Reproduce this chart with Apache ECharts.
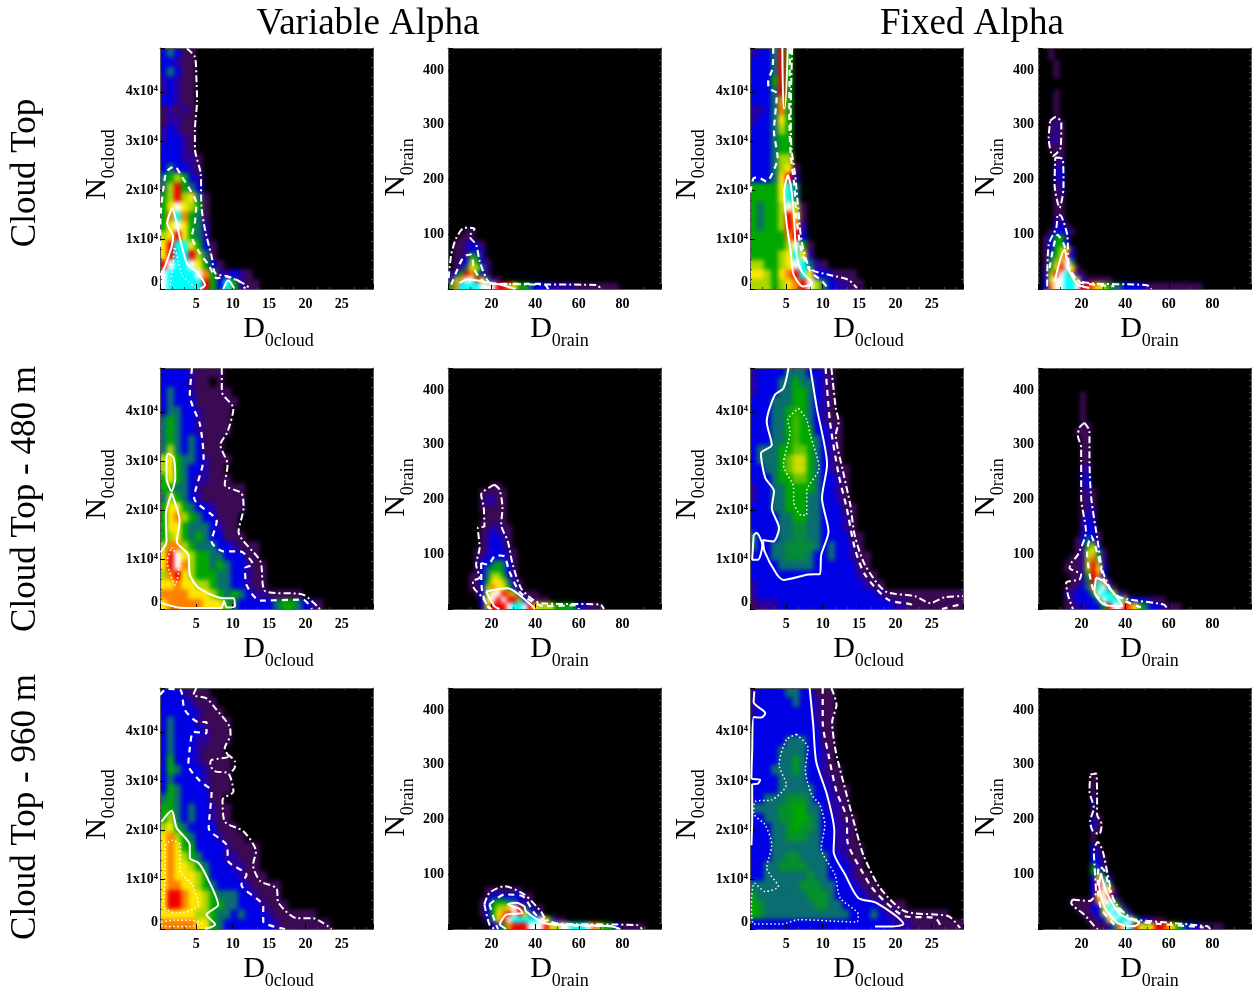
<!DOCTYPE html>
<html><head><meta charset="utf-8"><style>html,body{margin:0;padding:0;background:#fff}#c{width:1255px;height:992px}</style>
<script src="https://cdn.jsdelivr.net/npm/echarts@6/dist/echarts.min.js"></script></head><body><div id="c"></div>
<script>
const columnTitles=['Variable Alpha','Fixed Alpha'];
const rowTitles=['Cloud Top','Cloud Top - 480 m','Cloud Top - 960 m'];
const levelColors=['#000000','#3c0a55','#2a00a0','#0000e6','#0a6e70','#00a800','#a8d800','#ffe800','#ff8000','#f00000','#ffffff','#00ffff'];
const cloudXTicks=[5,10,15,20,25], rainXTicks=[20,40,60,80];

// density levels; rows run top to bottom and end on the bottom row
const g1=[[3,4,3,1,1],[3,3,2,1,1],[3,4,3,1,1],[2,3,2,1,1],[2,3,2,1,1],[3,3,2,1,1],[1,2,1,2,1],[1,2,2,1,1],[2,3,2,1,1],[2,3,3,2,1],[3,3,3,2,1],[3,3,3,2,2,1],[3,4,3,3,2,1],[4,5,6,5,3,2],[4,6,9,5,4,3],[5,6,9,6,7,4,1],[5,7,10,7,6,5,1],[5,8,11,8,5,4,1],[5,7,10,7,5,4,2],[6,7,9,7,5,4,2],[7,9,11,11,7,5,3,1],[7,9,11,11,9,6,4,1],[9,10,11,11,10,7,5,3,1],[10,11,11,11,11,10,8,5,2,2,3,2,1],[10,11,11,11,11,11,9,5,3,11,5,2,1,1]];
// rain rows: first number is the first occupied column
const g2=[[3,1,1],[2,1,1,1],[1,1,1,2,3,2,1],[1,1,1,2,3,3,2],[1,1,1,2,5,4,2],[1,1,2,3,6,5,3,1],[1,1,2,4,7,6,4,2],[0,1,3,5,9,8,5,3,1],[0,3,6,8,10,10,9,7,4,2,1],[0,5,8,11,11,11,11,10,10,10,9,9,8,7,5,5,4,3,3,3,2,2,2,2,2,1,1,1,1,1,1,1,1]];
const g3=[[2,3,3,4,9,5],[3,3,3,4,9,5],[3,3,3,4,9,5],[3,3,3,5,9,5],[3,3,3,4,9,5],[3,3,3,4,8,5],[2,2,3,4,8,5],[2,3,3,4,7,5],[3,3,3,4,6,5],[3,3,3,4,5,5],[3,3,3,4,5,5],[3,3,3,4,6,6],[3,3,3,4,6,7,1],[3,3,3,4,7,9,2],[5,5,5,5,7,11,4],[5,5,5,5,7,11,4],[5,4,5,5,6,10,6,1],[5,4,5,5,6,9,7,1],[5,4,5,5,6,9,8,2],[5,5,5,5,5,8,9,3],[5,5,5,5,5,6,10,5,1],[5,5,5,5,6,7,11,7,2],[6,6,5,5,6,7,10,11,4,2,1],[7,7,6,5,7,8,9,11,7,3,3,2,1,1,1],[6,6,6,5,6,7,8,9,10,6,4,3,2,2,1,1]];
const g4=[[2,1],[2,1],[3,1],[3,1],[3,1],[],[],[3,1],[3,1],[3,1],[3,1],[3,1],[2,1,2,1],[2,1,2,1],[2,1,2,1],[2,2,2,1],[2,1,1,1],[3,1,1],[3,1,2],[3,2,2],[3,2,3],[3,2,3],[3,2,2],[3,1,2],[3,1,2],[3,1,1],[3,1,1],[3,1,1],[3,2,2],[3,2,3,1],[2,1,3,3,3,1],[1,1,3,5,5,2],[1,1,3,5,5,3],[1,1,3,5,6,7,2],[1,1,4,5,7,9,3],[1,1,4,6,8,10,4],[1,2,5,7,9,10,7,1],[1,2,6,9,10,11,8,2,1],[1,3,7,10,10,11,11,7,3,1,1,1,1,1],[1,3,8,10,10,11,11,10,9,9,8,7,6,5,4,4,3,3,3,3,2,1,1,1,1,1,1,1,1,1,1]];
const g5=[[3,3,3,3,2,1,1,1,1],[3,3,3,3,2,1,1,0,1],[3,4,3,3,2,1,1,1,1,1],[3,4,3,3,3,1,1,1,1,1,1],[3,4,4,3,3,2,1,1,1,1],[4,5,4,3,3,2,1,1,1,1],[4,5,4,3,3,2,1,1,1,1],[4,5,4,3,4,3,1,1,1],[4,6,4,3,4,3,1,1,1],[6,7,5,4,4,3,2,1,1,1],[6,7,5,4,3,3,2,1,1],[5,7,5,4,3,2,2,1,1,1],[5,5,4,4,3,2,1,1,1,1,1,1],[4,6,5,4,3,2,1,1,1,1,1,1],[5,7,7,5,4,3,3,2,1,1,1,1],[5,7,8,6,5,4,3,3,1,1,1],[5,7,7,5,4,4,4,3,2,1,1],[5,6,7,5,4,5,4,3,3,1,1,1],[6,8,8,6,5,4,4,4,3,3,2,1,1,1],[7,9,10,7,6,5,5,4,4,3,3,3,1,1],[7,9,10,8,6,5,5,4,5,4,3,3,2,1,1],[6,8,9,7,6,5,5,5,4,4,3,3,2,1,1],[7,7,8,7,7,6,6,5,4,4,3,3,2,1,1],[8,8,8,8,7,7,7,6,5,4,5,4,3,2,2,1,1,1,1,1],[7,8,8,8,8,8,7,7,7,5,4,3,3,3,3,3,4,5,5,4,3,2,1]];
const g6=[[8,1,1],[6,1,1,1,1,1],[6,1,2,2,1,1],[6,1,2,2,1,1],[6,1,1,1,1,1],[7,1,1,1,1],[6,1,1,1,1,1],[6,1,1,2,2,1,1],[6,1,2,3,2,2,1],[6,1,2,3,3,2,1],[6,1,2,3,3,2,1],[5,1,1,2,3,3,3,1,1],[5,1,2,3,3,3,3,2,1],[5,1,3,3,4,5,4,3,1],[5,1,3,4,5,5,4,3,1],[4,1,1,3,4,6,6,5,3,2],[4,1,1,3,5,7,7,6,4,2,1],[4,1,1,3,6,8,7,7,5,3,1],[5,1,3,6,10,10,9,8,6,3,1,1,1],[6,3,7,10,9,10,9,9,6,3,1,1,1,1],[6,2,6,9,9,9,10,11,11,10,9,7,6,6,6,5,5,5,5,3,2,2,1,1]];
const g7=[[2,3,3,3,3,4,4,4,3,3,2,1],[2,3,3,3,4,4,5,4,4,3,2,1],[2,3,3,3,4,4,5,5,4,3,2,1],[3,3,3,4,4,4,5,5,4,3,2,1],[3,3,3,4,4,5,5.2,5,4,3,2,1],[3,3,3,4,4,5,5.4,5,4,3,2,1,1],[3,3,3,4,4,5,5.4,5,5,3,3,2,1],[3,3,3,4,4,5,5.4,5,5,4,3,2,1],[3,4,4,4,5,5,5.6,5.6,5,4,3,2,1],[3,4,4,4,5,5.6,6.4,6.4,5,4,3,2,1],[3,3,4,4,5,5.6,6.4,6.4,5,4,3,2,1,1],[3,3,3,4,5,5,5.6,5.6,5,4,3,3,2,1],[2,3,3,4,4,5,5,5,5,4,3,3,2,1],[2,3,3,4,4,5,5,5,4,4,3,3,2,1],[3,3,3,4,4,5,5,5,4,4,3,3,3,1,1],[3,3,3,3,4,4,5,5,4,4,3,3,3,2,1],[3,3,3,3,4,4,4.5,4.5,4,4,3,3,3,2,1],[4,3,3,3,4,4,4.5,4.5,4,4,3,3,3,3,1,1],[4,3,3,4,4,4.5,4.5,4.5,4.5,4,3,4,3,3,2,1],[3,3,3,4,4,4.5,4.5,4.5,4,3,3,4,3,3,2,1,1],[3,3,3,3,4,4,4,4,4,3,3,3,3,3,3,1,1],[3,3,3,3,3,3,3,3,3,3,3,3,3,3,3,2,1,1],[2,3,3,3,3,3,3,3,3,3,3,3,3,3,3,3,2,1,1],[2,3,3,3,3,3,3,3,3,3,3,3,3,3,3,3,3,3,2,1,1,1,1,1,1,1,1,1,1,1],[1,2,2,2,3,3,3,3,3,3,3,3,3,3,3,3,3,3,3,3,2,2,1,1,1,1,1,1,1,1]];
const g8=[[8,1],[8,1],[8,1],[8,1],[8,1],[8,1,1],[7,1,1,1],[8,1,1],[8,1,1],[8,1,1],[8,1,1],[8,1,1],[8,2,2],[8,2,2],[8,2,3],[8,2,3],[8,1,2,1],[8,1,2,1],[8,1,2,1],[8,1,2,2],[8,1,3,2],[8,2,3,2],[8,2,3,3],[8,2,3,3,1],[7,1,3,4,3,1],[7,1,2,5,6,3],[7,1,2,6,7,4,1],[6,1,1,2,6,8,5,2],[5,1,1,1,2,6,9,6,2],[5,1,1,1,2,6,9,7,3],[6,1,1,2,5,9,8,3],[6,1,1,2,4,9,11,8,2],[5,1,1,2,3,4,8,11,10,4,1],[5,2,2,3,3,3,5,10,11,11,6,2,1],[5,1,2,3,3,3,3,5,10,11,11,11,6,3,3,3,2,2,1,1],[5,1,1,2,2,3,3,3,5,9,10,10,9,8,7,5,4,3,3,2,1,1,1]];
const g9=[[3,3,3,2,1,1,1],[3,3,3,3,2,1,1,1],[3,3,3,3,3,2,1,1,1],[3,4,3,3,3,2,1,1,1,1],[3,4,3,3,3,3,2,1,1,1],[3,4,3,3,3,2,2,1,1,1],[3,4,3,3,3,2,1,1,1],[3,5,3,3,3,2,1,1,1,1],[3,5,4,3,3,3,2,1,1,1],[3,4,3,3,3,3,2,1,1,1],[3,5,4,3,3,3,3,1,1,1],[4,5,4,3,3,3,3,1,1],[5,5,4,3,4,3,3,2,1,1],[5,6,4,3,4,3,3,2,1,1],[6,7,5,4,3,3,3,3,1,1,1],[7,8,6,5,4,3,3,3,2,1,1,1],[7,8,7,5,5,3,3,3,3,2,1,1,1,1],[7,8,7,6,5,4,3,3,3,2,2,1,1,1],[7,8,7,7,6,5,4,3,3,3,2,2,1,1],[7,8,7,7,7,6,5,3,3,3,3,2,1,1,1],[7,8,8,7,7,6,5,4,3,3,3,3,2,1,1,1,1],[7,9,9,8,7,7,6,5,4,4,4,3,3,2,1,1,1],[7,9,9,8,7,7,6,5,5,4,4,3,3,3,2,1,1,1],[7,7,7,7,7,6,6,5,4,4,3,4,3,3,3,2,1,1,1,1,1,1],[8,8,8,8,8,7,7,5,4,3,3,3,3,3,3,3,2,1,1,1,1,1,1,1]];
const g10=[[7,1,1,1,1,1,1,1],[7,1,3,3,3,3,3,3,1,1],[6,1,3,4,5,5,4,4,3,2,1],[6,1,3,5,6,6,7,10,9,4,3,1,1],[6,1,3,5,7,8,9,10,9,7,4,3,1],[7,2,4,7,9,10,11,11,11,11,11,10,7,4,2,1],[8,2,3,5,8,9,9,9,10,10,10,9,7,6,10,10,11,11,11,10,8,6,5,5,3,2,1,1,1,1]];
const g11=[[2,3,3,3,3,4,4,3,3,1,1,1],[2,3,3,3,3,3,4,3,3,2,1,1],[2,3,3,3,3,3,3,3,3,2,1,1],[3,3,3,3,3,3,3,3,3,2,1,1],[3,3,3,3,3,3,3,3,3,3,1,1],[3,3,3,3,3,4,4,4,3,3,1,1],[3,3,3,3,4,4,4,4,3,3,2,1],[3,3,3,3,4,4,4.7,4,3,3,2,1],[3,3,3,4,4,4,4.7,4,3,3,2,1,1],[3,3,3,3,4,4,4,4,3,3,2,2,1],[3,3,3,3,4,4,4,4,4,3,3,2,1,1],[3,3,4,4,4,4.6,4.6,4.6,4,3,3,2,2,1],[4,4,4,4,4.6,4.6,5,5,4,4,3,2,2,1],[3,3,4,4,4.6,4.6,5,5,4.6,4,3,3,2,1,1],[3,3,3,4,4,4.6,5,4.6,4.6,4,3,3,2,2,1],[3,3,3,4,4,4.6,4.6,4.6,4,4,3,3,2,2,1],[3,3,3,4,4,4,4,4,4,4,3,3,2,2,1,1],[3,3,3,4,4,4.6,4.6,4,4,4,4,3,3,2,1,1],[3,3,4,4,4.6,4.6,4.6,4.6,4,4,4,3,3,3,2,1],[3,3,4,4,4,4,4,4,4.6,4,4,3,3,3,2,1,1],[4,4,4,4,4,4,4,4.6,4.6,4.6,4,4,3,3,3,2,1,1],[4.6,4,4,4,4,4,4,4,4.6,4.6,4.6,4,3,3,3,3,2,1,1],[5,4.6,4,4,4,4,4,4,4,4.6,4.6,4,4,3,3,3,3,3,2,1,1,1],[5,4.6,4,4,4,4,4,4,4,4,4,4,4,4,3,3,3,4,3,2,2,1,1,1,1,1,1,1],[3,3,3,3,3,3,3,3,3,3,3,3,3,3,3,3,3,3,3,3,2,2,2,1,1,1,1,1,1,1]];
const g12=[[10,1],[10,1],[10,1],[10,1],[10,2],[10,2],[10,1],[10,2,1],[10,3,1],[10,2,1],[10,1],[10,1],[10,3,1],[10,3,2],[10,3,3,1],[10,4,3,1],[10,5,4,2],[10,3,7,5,2],[10,3,9,10,4],[10,3,9,10,7,1],[10,2,7,10,9,2],[6,1,1,1,1,2,8,10,10,5,1],[7,1,1,1,3,3,7,11,10,5,2],[8,1,1,2,3,6,10,11,10,5,2],[9,1,1,2,3,7,10,11,11,10,5,3,2,2,1,1],[10,1,1,1,2,4,8,10,11,9,7,6,7,9,9,8,7,5,4,3,3,2,1,1,1,1]];

// contours in data units: D, N (cloud N in thousands)
const c1=[['dd',[[3.7,48.8],[4.8,47.1],[5,43],[5.1,38.3],[4.8,32.2],[4.8,28.5],[5.6,23.4],[5.7,16.7],[6.2,12],[7.1,6.6],[7.6,3.2],[9.2,2.6],[11.5,1.1],[12.4,.1]]],
['da',[[0,8.6],[.1,15.3],[.5,20.7],[.9,23.8],[2,24.9],[3,22.8],[3.9,20.7],[5,17.4],[4.8,13.6],[4.4,10.6],[5.5,7.2],[6.7,4.9],[7.8,2.2],[9.2,2.5],[11,1.5],[11.7,.1]]],
['so',[[0,2.8],[.5,3.9],[1.6,8.6],[1.8,10.6],[1,13.3],[1.7,16.4],[2.4,12.6],[2.8,9.9],[3.7,5.2],[5,3.5],[6.2,.8],[5.5,0]]],
['so',[[8.7,0],[9.4,1.8],[10.2,.1]]],['do',[[1.4,.8],[1.8,5],[2,8.5],[2.6,5],[3.2,2.5],[4.8,.4]]]];
const c2=[['dd',[[.3,20],[1.5,63],[3.8,93],[7.6,112],[12.2,110],[9.9,96],[12.9,81],[14.5,51],[17.5,20],[19.8,10],[68.5,7],[70,0]]],
['da',[[1.5,8],[5.3,45],[7.6,60],[10.7,63],[11.9,38],[14.5,20],[18.3,10],[44,9],[46,0]]],
['so',[[5.3,11],[9,18],[16.7,13],[25,7],[31,0]]]];
const c3=[['dd',[[5.8,48.9],[5.6,36],[5.7,28.6],[6.2,23.2],[6.6,17],[7.1,9.7],[8.3,4.1],[10.8,2.9],[13.5,1.9],[14.7,.2]]],
['da',[[5.5,48.9],[5.4,36],[5.6,27.2],[6.1,21.1],[6.4,14.4],[7.1,7.6],[8.3,3.6],[9.9,1.6],[10.8,0]]],
['da',[[3.2,48.9],[3.1,44.8],[2.5,42.1],[2.6,40.7],[3.7,39.7],[3.3,32],[3.8,26.6],[3.2,23.9],[2.3,21.8],[1.1,22.6],[.5,22.5],[0,19.1]]],
['so',[[4.45,48.9],[4.6,36.7],[4.8,36.7],[5.2,48.9]]],
['so',[[5.2,23.2],[4.7,19.8],[5,13.7],[5.6,7.6],[6,2.9],[7.3,.5],[8.5,1.2],[7.1,3.6],[6.4,7],[6,15.7],[5.6,21.1],[5.2,23.2]]]];
const c4=[['dd',[[5.6,307],[8.1,314],[10.7,304],[10.4,258],[6.8,243],[4.9,276],[5.6,307]]],
['dd',[[7.9,240],[11.4,237],[11.7,185],[9.9,148],[7.6,191],[7.9,240]]],
['dd',[[4.2,5],[4.9,81],[8.4,112],[9.1,136],[10.7,133],[13.4,99],[14.5,38],[19.8,13],[50,7],[52,0]]],
['da',[[5.3,38],[9,99],[12.2,78],[13.7,38],[18.3,13],[35,5]]],
['so',[[7.6,14],[12.2,72],[14.5,32],[18.3,8],[23.6,2]]]];
const c5=[['dd',[[8.5,48.9],[8.5,44.1],[10.1,40.7],[9.3,36],[8.3,33.3],[9.3,29.3],[8.9,25.2],[11.2,23.5],[11.5,20.5],[10.8,15.7],[13.8,9.7],[14.5,3.6],[19.7,2.9],[22,0]]],
['da',[[4.4,48.9],[4.1,43.4],[5.5,37.4],[6,30.6],[4.7,22.5],[7.8,17.8],[7.1,13.7],[8.7,11.7],[11,11.7],[12.8,9],[11.7,8.3],[11.9,4.9],[13.8,1.7],[19.7,1.9],[20.9,0]]],
['so',[[1.1,31.6],[1.9,30.6],[2.1,26.6],[1.6,23.9],[.9,26.6],[.9,30.6],[1.1,31.6]]],
['so',[[1.6,23.5],[2.7,17.8],[2.3,13.7],[3.9,11],[4.1,7],[5.3,4.3],[8.7,2.2],[10.1,2.2],[10.3,.5],[9.2,.3],[8.8,1.6],[8.4,.2],[3.2,.2],[.2,1.2]]],
['so',[[1.6,23.5],[.8,19.1],[.9,13.7],[.1,11.5]]],
['do',[[1.6,12.5],[2.7,9.7],[2.1,4.9],[1,9.7],[1.6,12.5]]]];
const c6=[['dd',[[21.3,227],[23.6,218],[25,185],[24.4,154],[27.4,124],[29.7,81],[33.5,38],[39.6,15],[44,10],[70,8],[71.5,0]]],
['dd',[[21.3,227],[15.2,209],[16.4,185],[16.7,151],[13.7,148],[14.5,112],[12.9,81],[14.5,57],[11.4,51],[11.9,38],[16,20],[19,0]]],
['da',[[15.2,84],[18.3,81],[22,98],[25.8,96],[28.1,69],[32.7,32],[38.8,13],[44,5],[59.4,7],[60,0]]],
['da',[[15.2,84],[15.5,38],[17.5,8],[20,0]]],
['so',[[17.5,32],[27.4,38],[36.5,13],[40,0]]],['so',[[17.5,32],[21.3,5],[23.6,0]]]];
const c7=[['dd',[[11.2,48.9],[11.8,40.7],[12.2,38],[11.8,35.3],[12.8,27.9],[13.8,21.1],[14.4,15],[15.8,9],[18.6,3.6],[22.7,2.6],[24.8,1.2],[26.8,2.4],[29.3,2.6]]],
['da',[[10.4,48.9],[11,38],[12.2,27.2],[13.3,20.5],[14.4,12.4],[15.8,7],[19,1.9],[22.2,.9],[22.7,0]]],['da',[[26.4,0],[29.1,1]]],
['so',[[5.3,48.9],[4.6,44.8],[3.4,43.4],[2.3,38],[3,33.3],[1.5,31.6],[2.1,26.6],[3.3,23.9],[3,20.5],[4,16.4],[3.2,13.7],[1.8,14],[2,11.7],[3.7,7],[4.6,5.9],[8,7],[9.6,7.1],[9.8,11],[10.8,15.7],[9.9,22.5],[10.6,29.3],[9.2,40.7],[8.3,48.9]]],
['so',[[.5,15],[.9,15.4],[1.7,13],[1.1,10],[.3,10],[.5,15]]],
['do',[[6.7,40.7],[7.8,38.4],[8.3,35.3],[9.5,28.6],[7.8,23.9],[7.8,19.1],[7.1,19],[6,21.8],[6,24.5],[4.6,29.3],[5.5,36],[5.2,38.4],[6.7,40.7]]]];
const c8=[['dd',[[21.3,340],[23.6,325],[23.6,276],[24.4,203],[27.4,124],[29.7,69],[35,26],[41,18],[57.8,8],[59.4,0]]],
['dd',[[21.3,340],[19,331],[18.3,316],[19.8,295],[19.8,203],[22,142],[18.3,99],[15.2,84],[14.5,75],[19.8,63],[19,54],[12.9,48],[13.7,26],[16,0]]],
['da',[[32,5],[25.6,32],[22.5,105],[24.4,133],[27.4,99],[31.2,45],[38.8,17],[47.2,3]]],
['so',[[26.6,57],[25.9,32],[30.4,8],[38.8,5],[36.5,20],[30,51],[26.6,57]]]];
const c9=[['dd',[[5,48.9],[4.6,47.5],[6.4,46.8],[7.6,44.8],[9.6,41],[9.7,39.4],[8.9,36.7],[9.4,35],[7.1,34.3],[6.9,33.3],[7.6,32],[9.4,31.6],[10.1,27.9],[8.6,26.2],[8.9,21.8],[11.5,19.8],[13.2,15.7],[12.8,13],[13.8,9.7],[16,8.3],[16.3,5.3],[18.8,2.2],[21,2.2],[23.6,0]]],
['dd',[[9.2,35.5],[10.3,34],[10.3,32.8],[9.9,32]]],
['da',[[0,47.5],[.9,48.7],[2.8,48.5],[3.4,44.5],[5.3,42],[6.4,42],[6.4,39.7],[4.6,40],[4.1,36.7],[3.9,33.3],[5.5,30],[7.1,27.9],[6.7,20.5],[9.2,17],[9.4,13.7],[11.9,11],[11.2,9],[14.2,4.6],[14.2,1.5],[17.2,0]]],
['so',[[.2,21.8],[1.6,24],[2.3,20.5],[4.1,17],[4.1,14.4],[5.3,13.4],[6.4,10.7],[8,4.9],[6.4,2.9],[7.6,.9],[6.2,0]]],
['do',[[.7,17],[1.6,18],[2.8,17],[2.8,11.7],[4.4,9],[5.3,4.9],[2.3,3.2],[.5,4.6],[.7,11.7],[.7,17]]],
['do',[[.2,1.4],[2,1.8],[4.1,1.8],[5.7,1.2],[4.1,.5],[.4,.5],[.2,1.4]]]];
const c10=[['dd',[[16.7,45],[19,66],[25.9,78],[35,63],[42.6,32],[44.9,18],[50,10],[86.8,7],[89,0]]],['dd',[[16.7,45],[19,8],[21.3,0]]],
['da',[[19,45],[22.8,57],[25.9,63],[34.2,60],[40.3,26],[50,7],[76,5],[78,0]]],['da',[[19,45],[22,8],[23,0]]],
['so',[[23.6,8],[26.6,26],[34.2,29],[32.7,37],[27.4,45],[31.2,48],[35,41],[35.8,32],[44,11],[51,8],[74.6,5],[79,0]]],['so',[[23.6,8],[26.6,0]]]];
const c11=[['dd',[[11.2,48.9],[11.9,45.5],[11.3,42],[11.8,36],[13.3,27.2],[14.4,21.1],[15.6,15],[17.9,8.3],[21.3,3.6],[27.3,2.6],[28.9,.2]]],
['da',[[10,48.9],[10,42],[10.8,35.3],[11.9,27.9],[13.3,22.5],[13.4,17.8],[15.4,11.7],[17.2,7.6],[21.3,2.6],[25.5,2.2],[26.4,0]]],
['so',[[8.2,48.9],[8.7,41.4],[9.1,34],[10.6,27.2],[11.6,19.8],[11.5,15.7],[13.1,11],[14.9,6.3],[17.4,5.3],[21.1,1],[19.5,.5],[17.2,.5]]],
['so',[[.6,48.2],[.5,46],[2.1,43.8],[1.6,42.9],[.5,43],[.3,36],[.2,30.6],[1.4,30.3],[1.1,29.5],[.3,29.3],[.3,22.5],[.2,17]]],
['do',[[6.4,39.5],[8,36.7],[7.6,32.3],[8.5,27.2],[9.6,25.2],[10.3,21.1],[9.8,16.4],[11.7,11],[12.4,6.3],[14.9,2.9],[14.7,1.4],[6.7,1.9],[4.4,1],[.5,1],[.2,4.9],[.6,9.3],[2.1,7.6],[3.9,8.6],[2.3,12.4],[3,17],[2.1,21.1],[.5,23.5],[.7,25.9],[3,26.2],[5,29.3],[4,33.3],[5,38.4],[6.4,39.5]]]];
const c12=[['dd',[[24,282],[26.6,284],[27.1,240],[27.1,209],[29.2,191],[28.1,173],[25.1,179],[23.9,197],[25.6,221],[23.6,252],[24,282]]],
['dd',[[16,54],[23.6,51],[26.6,66],[25.9,118],[25.6,142],[27.4,159],[29.7,142],[32,99],[35,51],[42.6,20],[50,15],[77.6,5],[79,0]]],
['dd',[[16,54],[15.2,48],[21.3,26],[25.9,5],[27.4,0]]],
['da',[[35,8],[28.9,38],[27.4,81],[28.1,115],[30.7,105],[33.5,63],[39.6,23],[47,13],[76,3]]],
['so',[[28.9,102],[31.2,69],[38,26],[46.4,11],[44,5],[36.5,11],[30.4,41],[28.1,81],[28.9,102]]]];

const panelLeft=[160,448,750,1038], panelTop=[48,368,688];
const PW=213, PH=241, SERIF='"Liberation Serif"';
const grids=[g1,g2,g3,g4,g5,g6,g7,g8,g9,g10,g11,g12];
const contours=[c1,c2,c3,c4,c5,c6,c7,c8,c9,c10,c11,c12];
const dashes={dd:{type:[7,3,2,3],width:2},da:{type:[6,5],width:2.2},so:{type:'solid',width:2},do:{type:[1.5,2.5],width:1.5}};
const range=n=>Array.from({length:n},(_,i)=>i);
const subName=(a,b)=>`{a|${a}}{b|${b}}`;
const nameStyle=pad=>({padding:pad,rich:{a:{fontFamily:SERIF,fontSize:30,lineHeight:36,verticalAlign:'top',color:'#000'},b:{fontFamily:SERIF,fontSize:18,lineHeight:36,verticalAlign:'bottom',color:'#000'}}});
const tickFont={fontFamily:SERIF,fontWeight:'bold',fontSize:14,color:'#000'};
const frame={lineStyle:{color:'#5a5a5a',width:1},onZero:false};
const option={animation:false,backgroundColor:'transparent',grid:[],xAxis:[],yAxis:[],series:[],visualMap:{type:'continuous',show:false,min:0,max:11,dimension:2,seriesIndex:[],inRange:{color:levelColors}},graphic:{elements:[]}};
let clip='';
grids.forEach((rows,i)=>{
  const col=i%4,row=Math.floor(i/4),rain=col%2===1;
  const L=panelLeft[col],T=panelTop[row];
  const nc=rain?40:30,nr=rain?40:25;
  clip+=`M${L} ${T}H${L+PW}V${T+PH}H${L}Z `;
  option.grid.push({left:L,top:T,width:PW,height:PH,show:false,zlevel:1});
  option.xAxis.push({type:'value',gridIndex:i,position:'bottom',zlevel:1,min:0,max:rain?97.7:29.3,interval:rain?20:5,name:subName('D',rain?'0rain':'0cloud'),nameLocation:'middle',nameGap:25,nameMoveOverlap:false,nameTextStyle:nameStyle(rain?[0,0,0,10]:[0,0,0,24]),
    axisLine:{show:true,...frame},axisTick:{show:true,inside:true,length:5,lineStyle:{color:'#000'}},minorTick:{show:true,splitNumber:rain?2:3,length:2,lineStyle:{color:'#444'}},splitLine:{show:false},minorSplitLine:{show:false},
    axisLabel:{...tickFont,margin:8,showMaxLabel:false,showMinLabel:false,formatter:v=>(rain?rainXTicks:cloudXTicks).includes(v)?String(v):''}});
  option.xAxis.push({type:'category',gridIndex:i,position:'top',zlevel:1,data:range(nc),axisLine:{show:true,...frame},axisTick:{show:true,inside:true,length:2,interval:rain?3:1,lineStyle:{color:'#444'}},axisLabel:{show:false},splitLine:{show:false}});
  option.yAxis.push({type:'value',gridIndex:i,position:'left',zlevel:1,min:0,max:rain?440:48.9,interval:rain?100:10,name:subName('N',rain?'0rain':'0cloud'),nameLocation:'middle',nameRotate:90,nameGap:rain?31:42,nameMoveOverlap:false,nameTextStyle:nameStyle(rain?[0,0,0,2]:[0,0,0,8]),
    axisLine:{show:true,...frame},axisTick:{show:true,inside:true,length:5,lineStyle:{color:'#000'}},minorTick:{show:true,splitNumber:rain?10:5,length:2,lineStyle:{color:'#444'}},splitLine:{show:false},minorSplitLine:{show:false},
    axisLabel:{...tickFont,margin:rain?4:2,showMaxLabel:false,showMinLabel:!rain,verticalAlignMinLabel:'bottom',formatter:v=>rain?(v===0?'':String(v)):(v===0?'0':(v/10)+'x10⁴')}});
  option.yAxis.push({type:'category',gridIndex:i,position:'right',zlevel:1,data:range(nr),axisLine:{show:true,...frame},axisTick:{show:true,inside:true,length:2,interval:0,lineStyle:{color:'#444'}},axisLabel:{show:false},splitLine:{show:false}});
});
// heat grids carry one extra cell ring so the soft edge stays outside the clipped panel
grids.forEach((rows,i)=>{
  const col=i%4,row=Math.floor(i/4),rain=col%2===1;
  const L=panelLeft[col],T=panelTop[row];
  const nc=rain?40:30,nr=rain?40:25,cw=PW/nc,ch=PH/nr;
  option.grid.push({left:L-cw,top:T-ch,width:PW+2*cw,height:PH+2*ch,show:false,zlevel:0});
  const hx=option.xAxis.length,hy=option.yAxis.length;
  option.xAxis.push({type:'category',gridIndex:12+i,show:false,zlevel:0,data:range(nc+2)});
  option.yAxis.push({type:'category',gridIndex:12+i,show:false,zlevel:0,data:range(nr+2)});
  const data=[];
  rows.forEach((r,k)=>{
    const y=rows.length-1-k;
    const off=rain?r[0]:0, vals=rain?r.slice(1):r;
    vals.forEach((v,j)=>{
      const x=off+j;
      data.push([x+1,y+1,v]);
      if(x===0)data.push([0,y+1,v]);
      if(y===0)data.push([x+1,0,v]);
      if(x===0&&y===0)data.push([0,0,v]);
      if(x===nc-1)data.push([nc+1,y+1,v]);
      if(y===nr-1)data.push([x+1,nr+1,v]);
    });
  });
  option.visualMap.seriesIndex.push(option.series.length);
  option.series.push({type:'heatmap',coordinateSystem:'cartesian2d',xAxisIndex:hx,yAxisIndex:hy,data,zlevel:0,silent:true,progressive:0,emphasis:{disabled:true}});
  contours[i].forEach(([k,pts])=>{
    option.series.push({type:'line',coordinateSystem:'cartesian2d',xAxisIndex:2*i,yAxisIndex:2*i,data:pts,zlevel:1,symbol:'none',smooth:.25,clip:true,silent:true,lineStyle:{color:'#fff',...dashes[k]}});
  });
});
columnTitles.forEach((t,i)=>option.graphic.elements.push({type:'text',zlevel:1,x:[368,972][i],y:24,style:{text:t,font:'37px '+SERIF,textAlign:'center',textVerticalAlign:'middle',fill:'#000'}}));
rowTitles.forEach((t,i)=>option.graphic.elements.push({type:'text',zlevel:1,x:26,y:[173,499,807][i],rotation:Math.PI/2,style:{text:t,font:'35px '+SERIF,textAlign:'center',textVerticalAlign:'middle',fill:'#000'}}));
const chart=echarts.init(document.getElementById('c'),null,{renderer:'canvas'});
chart.setOption(option);
const base=document.querySelector('#c canvas[data-zr-dom-id="zr_0"]');
if(base){base.style.background='#000';base.style.filter='blur(1.9px)';base.style.clipPath=`path("${clip}")`;}
</script></body></html>
